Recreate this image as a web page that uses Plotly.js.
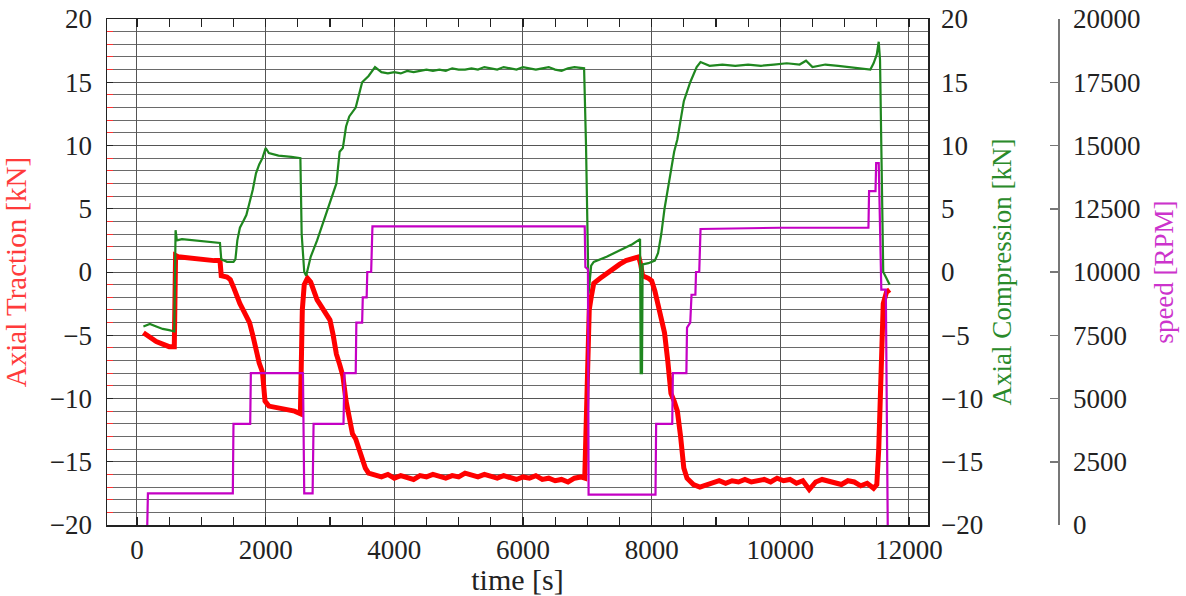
<!DOCTYPE html>
<html>
<head>
<meta charset="utf-8">
<script src="https://cdn.plot.ly/plotly-3.0.1.min.js"></script>
<style>html,body{margin:0;padding:0;background:#fff;}#chart{width:1186px;height:596px;}</style>
</head>
<body>
<div id="chart"></div>
<script>
// Axial Traction [kN] (left axis)
var tTraction = [
  100, 200, 300, 400, 500, 580,
  600, 640, 800, 1000, 1200, 1290,
  1310, 1400, 1450, 1500, 1550, 1600,
  1650, 1700, 1750, 1800, 1850, 1900,
  1950, 1990, 2050, 2150, 2250, 2350,
  2450, 2540, 2570, 2600, 2650, 2700,
  2750, 2800, 2850, 2900, 2950, 3000,
  3050, 3100, 3150, 3200, 3250, 3300,
  3350, 3400, 3450, 3500, 3550, 3600,
  3650, 3700, 3800, 3900, 4000, 4100,
  4200, 4300, 4400, 4500, 4600, 4700,
  4800, 4900, 5000, 5100, 5200, 5300,
  5400, 5500, 5600, 5700, 5800, 5900,
  6000, 6100, 6200, 6300, 6400, 6500,
  6600, 6700, 6800, 6900, 6960, 6990,
  7030, 7060, 7100, 7200, 7300, 7400,
  7500, 7600, 7700, 7800, 7830, 7860,
  7950, 8000, 8050, 8100, 8150, 8200,
  8250, 8300, 8350, 8400, 8450, 8500,
  8550, 8650, 8750, 8850, 8950, 9050,
  9150, 9250, 9350, 9450, 9550, 9650,
  9750, 9850, 9950, 10050, 10150, 10250,
  10350, 10450, 10550, 10650, 10750, 10850,
  10950, 11050, 11150, 11250, 11350, 11450,
  11500, 11530, 11560, 11600, 11650, 11700
];
var traction = [
  -4.8, -5.2, -5.5, -5.7, -5.9, -5.9,
  1.3, 1.2, 1.1, 1.0, 0.9, 0.9,
  -0.3, -0.4, -0.6, -1.2, -2.0, -2.5,
  -3.0, -3.5, -4.0, -5.0, -6.2, -7.2,
  -7.9, -10.2, -10.6, -10.7, -10.8, -10.9,
  -11.0, -11.2, -3.0, -1.0, -0.5, -0.8,
  -1.5, -2.2, -2.6, -3.0, -3.4, -3.8,
  -5.0, -6.5, -7.3, -8.2, -10.2, -11.5,
  -12.8, -13.2, -14.0, -15.0, -15.5, -15.9,
  -16.0, -16.1, -16.2, -16.0, -16.3, -16.1,
  -16.2, -16.4, -16.1, -16.2, -16.0, -16.2,
  -16.3, -16.1, -16.2, -15.9, -16.1, -16.2,
  -16.0, -16.2, -16.3, -16.1, -16.2, -16.4,
  -16.2, -16.3, -16.1, -16.4, -16.3, -16.5,
  -16.4, -16.6, -16.3, -16.2, -16.3, -10.0,
  -3.0, -2.0, -0.9, -0.5, -0.1, 0.3,
  0.6, 0.9, 1.1, 1.2, 0.6, -0.3,
  -0.5, -0.7, -1.5, -2.5, -3.5, -4.8,
  -7.0, -9.6, -10.2, -11.0, -13.0, -15.5,
  -16.3, -16.8, -17.0, -16.8, -16.6, -16.5,
  -16.7, -16.5, -16.6, -16.4, -16.6, -16.5,
  -16.4, -16.6, -16.3, -16.5, -16.4, -16.7,
  -16.5, -17.2, -16.6, -16.4, -16.5, -16.6,
  -16.8, -16.5, -16.6, -16.9, -16.7, -17.1,
  -16.8, -14.0, -8.0, -2.5, -1.6, -1.4
];

// Axial Compression [kN] (right axis)
var tCompression = [
  100, 200, 300, 400, 500, 580,
  600, 620, 700, 900, 1100, 1290,
  1310, 1400, 1500, 1530, 1560, 1600,
  1650, 1700, 1750, 1800, 1850, 1900,
  1950, 2000, 2050, 2200, 2400, 2540,
  2560, 2600, 2630, 2700, 2800, 2900,
  3000, 3100, 3150, 3200, 3250, 3300,
  3400, 3500, 3600, 3700, 3800, 3900,
  4000, 4100, 4200, 4300, 4400, 4500,
  4600, 4700, 4800, 4900, 5000, 5100,
  5200, 5300, 5400, 5500, 5600, 5700,
  5800, 5900, 6000, 6100, 6200, 6300,
  6400, 6500, 6600, 6700, 6800, 6950,
  6980, 7020, 7060, 7100, 7300, 7500,
  7700, 7820, 7830, 7850, 7860, 7950,
  8050, 8100, 8150, 8200, 8250, 8300,
  8350, 8400, 8450, 8500, 8600, 8700,
  8760, 8900, 9100, 9300, 9500, 9700,
  9900, 10100, 10300, 10400, 10500, 10700,
  10900, 11100, 11300, 11400, 11450, 11500,
  11530, 11550, 11570, 11600, 11650, 11700
];
var compression = [
  -4.3, -4.1, -4.3, -4.5, -4.6, -4.7,
  3.3, 2.5, 2.6, 2.5, 2.4, 2.3,
  1.0, 0.8, 0.8, 1.0, 2.5, 3.5,
  4.0, 4.5, 5.5, 6.5, 7.8, 8.5,
  9.0, 9.8, 9.4, 9.2, 9.1, 9.0,
  3.0, 0.0, -0.3, 1.2, 2.5, 4.0,
  5.5, 7.0, 9.5, 9.8, 11.5, 12.3,
  13.0, 15.0, 15.5, 16.2, 15.8, 15.7,
  15.8, 15.7, 15.9, 15.8, 15.9, 16.0,
  15.9, 16.0, 15.9, 16.1, 16.0, 16.0,
  16.1, 16.0, 16.2, 16.1, 16.0, 16.2,
  16.1, 16.0, 16.2, 16.1, 16.0, 16.1,
  16.2, 16.0, 15.9, 16.1, 16.2, 16.1,
  10.0, -1.7, 0.5, 0.8, 1.2, 1.7,
  2.2, 2.6, -8.0, -8.0, 0.6, 0.7,
  0.9, 1.5, 3.0, 5.0, 6.5, 8.0,
  9.5, 10.5, 12.0, 13.5, 15.0, 16.2,
  16.6, 16.3, 16.4, 16.3, 16.4, 16.3,
  16.4, 16.5, 16.4, 16.7, 16.2, 16.4,
  16.3, 16.2, 16.1, 16.0, 16.5, 17.2,
  18.2, 16.8, 10.0, 0.0, -0.5, -1.0
];

// speed [RPM] (third axis)
var tSpeed = [
  160, 170, 1490, 1500, 1760, 1770,
  2540, 2580, 2600, 2730, 2745, 3210,
  3225, 3400, 3410, 3500, 3510, 3570,
  3580, 3640, 3660, 4500, 5500, 6960,
  6970, 7010, 7020, 8060, 8070, 8320,
  8330, 8540, 8550, 8600, 8620, 8680,
  8690, 8740, 8760, 10000, 11370, 11380,
  11480, 11490, 11530, 11550, 11570, 11640,
  11660, 11670
];
var speed = [
  0, 1250, 1250, 4000, 4000, 6000,
  6000, 6000, 1250, 1250, 4000, 4000,
  6000, 6000, 8000, 8000, 9000, 9000,
  10000, 10000, 11800, 11800, 11800, 11800,
  10200, 10100, 1200, 1200, 4000, 4000,
  6000, 6000, 7800, 8000, 9100, 9100,
  10000, 10000, 11700, 11750, 11750, 13200,
  13200, 14300, 14300, 12200, 9300, 9300,
  3750, 0
];

var xTitle = 'time [s]';
var yTitle = 'Axial Traction [kN]';
var y2Title = 'Axial Compression [kN]';
var y3Title = 'speed [RPM]';

var FONT = 'Liberation Serif, Times New Roman, serif';

var traces = [
  {x: tTraction, y: traction, type: 'scatter', mode: 'lines', yaxis: 'y',
   line: {color: '#ff0000', width: 5}, name: yTitle},
  {x: tCompression, y: compression, type: 'scatter', mode: 'lines', yaxis: 'y2',
   line: {color: '#1f871f', width: 2.2}, name: y2Title},
  {x: tSpeed, y: speed, type: 'scatter', mode: 'lines', yaxis: 'y3',
   line: {color: '#c400c4', width: 2.2}, name: y3Title}
];

var layout = {
  width: 1186, height: 596,
  margin: {l: 107, r: 0, t: 19, b: 71},
  paper_bgcolor: '#ffffff', plot_bgcolor: '#ffffff',
  font: {family: FONT, size: 27, color: '#222'},
  showlegend: false,
  xaxis: {
    domain: [0, 0.7609], range: [-466, 12296], tick0: 0, dtick: 2000,
    tickformat: 'd',
    ticks: 'inside', ticklen: 8, tickcolor: '#222', tickwidth: 1.2,
    showline: true, linecolor: '#222', linewidth: 1.5, mirror: 'allticks',
    showgrid: true, gridcolor: '#555', gridwidth: 1, zeroline: false,
    minor: {dtick: 500, ticks: 'inside', ticklen: 5, tickcolor: '#222', showgrid: false},
    title: {text: xTitle, standoff: 0, font: {size: 30, color: '#222'}},
    automargin: false
  },
  yaxis: {
    range: [-20, 20], tick0: 0, dtick: 5,
    ticks: 'inside', ticklen: 6, tickcolor: '#222',
    showline: true, linecolor: '#222', linewidth: 1.5,
    showgrid: true, gridcolor: '#555', gridwidth: 1, zeroline: false,
    minor: {dtick: 1, showgrid: true, gridcolor: '#6a6a6a', gridwidth: 1,
            ticks: 'inside', ticklen: 6, tickcolor: '#ff3030'},
    ticklabelstandoff: 8,
    title: {text: yTitle, standoff: 14, font: {size: 29, color: '#ff3b3b'}},
    automargin: false
  },
  yaxis2: {
    overlaying: 'y', side: 'right', anchor: 'x',
    range: [-20, 20], tick0: 0, dtick: 5,
    ticks: '', showline: true, linecolor: '#222', linewidth: 1.5,
    showgrid: false, zeroline: false, ticklabelstandoff: 6,
    title: {text: y2Title, standoff: 10, font: {size: 27, color: '#2a8a2a'}},
    automargin: false
  },
  yaxis3: {
    overlaying: 'y', side: 'right', anchor: 'free', position: 0.8814,
    range: [0, 20000], tick0: 0, dtick: 2500,
    tickformat: 'd',
    ticks: 'inside', ticklen: 8, tickcolor: '#777', tickwidth: 1.5,
    showline: true, linecolor: '#777', linewidth: 1.5,
    showgrid: false, zeroline: false, ticklabelstandoff: 8,
    title: {text: y3Title, standoff: 14, font: {size: 27, color: '#cc33cc'}},
    automargin: false
  }
};

Plotly.newPlot('chart', traces, layout, {displayModeBar: false, staticPlot: true});
</script>
</body>
</html>
